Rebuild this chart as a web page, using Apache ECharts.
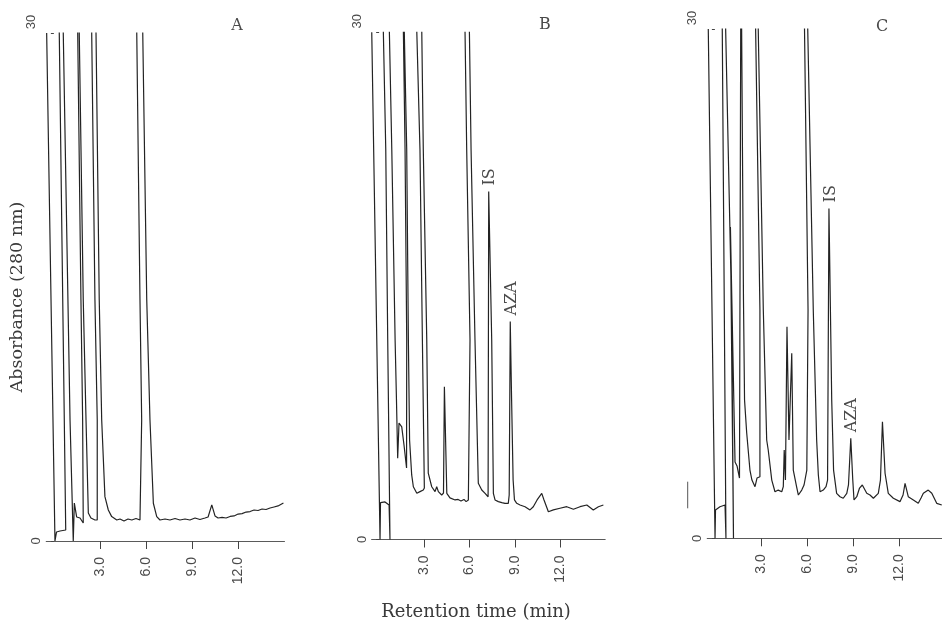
<!DOCTYPE html>
<html>
<head>
<meta charset="utf-8">
<script src="https://cdn.jsdelivr.net/npm/echarts@6/dist/echarts.min.js"></script>
<style>
html,body{margin:0;padding:0;background:#ffffff;}
#chart{width:942px;height:622px;}
</style>
</head>
<body>
<div id="chart"></div>
<script>
// ---------------- data (retention time in min, absorbance units; off-scale peaks run above 30) ----------------
const panelNames = ['A', 'B', 'C'];
const xTickValues = [3, 6, 9, 12];
const yTickValues = [0, 30];
const xAxisTitle = 'Retention time (min)';
const yAxisTitle = 'Absorbance (280 nm)';

const traceA = [[-0.47,30],[0.07,0],[0.17,0.53],[0.40,0.59],[0.77,0.65],[0.35,30],[0.48,40],[0.61,30],[1.05,7.15],[1.26,0],[1.33,2.24],[1.48,1.42],[1.70,1.36],[1.91,1.06],[1.87,7.15],[1.76,14.24],[1.55,30],[1.60,40],[1.65,30],[1.91,14.24],[2.09,7.15],[2.24,1.65],[2.41,1.36],[2.67,1.24],[2.82,1.24],[2.82,7.15],[2.67,14.24],[2.46,30],[2.60,40],[2.74,30],[2.95,14.24],[3.11,7.15],[3.32,2.62],[3.54,1.83],[3.76,1.44],[4.09,1.24],[4.30,1.30],[4.56,1.18],[4.82,1.30],[5.07,1.24],[5.34,1.33],[5.60,1.24],[5.71,1.24],[5.71,7.15],[5.60,14.24],[5.39,30],[5.58,40],[5.78,30],[6.04,14.24],[6.25,7.15],[6.47,2.23],[6.69,1.44],[6.90,1.24],[7.23,1.30],[7.55,1.24],[7.88,1.33],[8.20,1.24],[8.53,1.30],[8.85,1.24],[9.18,1.36],[9.50,1.27],[9.83,1.36],[10.03,1.42],[10.27,2.13],[10.48,1.48],[10.68,1.36],[10.94,1.39],[11.20,1.36],[11.46,1.45],[11.72,1.48],[11.98,1.59],[12.24,1.62],[12.50,1.71],[12.76,1.74],[13.02,1.83],[13.28,1.80],[13.54,1.89],[13.80,1.86],[14.06,1.95],[14.32,2.01],[14.58,2.07],[14.93,2.24]];

const traceB = [[-0.49,30],[0.06,0],[0.09,2.18],[0.39,2.22],[0.66,2.04],[0.72,0],[0.57,11.80],[0.44,23.05],[0.28,30],[0.48,40],[0.68,30],[0.84,23.05],[1.06,11.80],[1.15,8.25],[1.23,4.80],[1.32,6.89],[1.50,6.66],[1.65,5.59],[1.82,4.23],[1.83,11.80],[1.72,23.05],[1.61,30],[1.64,40],[1.67,30],[1.83,23.05],[1.94,11.80],[2.02,5.89],[2.16,3.82],[2.27,3.12],[2.50,2.73],[2.71,2.83],[2.93,2.93],[3.00,3.05],[2.87,11.80],[2.71,23.05],[2.50,30],[2.65,40],[2.83,30],[2.93,23.05],[3.16,11.80],[3.26,3.93],[3.49,3.12],[3.71,2.83],[3.82,3.12],[3.93,2.83],[4.15,2.63],[4.27,2.75],[4.33,9.04],[4.49,2.73],[4.70,2.46],[4.82,2.40],[5.04,2.34],[5.24,2.37],[5.43,2.28],[5.63,2.37],[5.77,2.24],[5.92,2.34],[6.03,2.24],[6.03,11.80],[5.81,23.05],[5.70,30],[5.83,40],[5.99,30],[6.10,23.05],[6.36,11.80],[6.58,3.33],[6.81,2.93],[7.03,2.73],[7.23,2.53],[7.31,2.53],[7.27,20.58],[7.47,11.80],[7.58,2.73],[7.69,2.34],[7.91,2.24],[8.14,2.18],[8.35,2.14],[8.57,2.14],[8.63,2.63],[8.70,12.89],[8.79,8.25],[8.89,3.52],[8.98,2.34],[9.13,2.14],[9.35,2.04],[9.68,1.94],[10.01,1.75],[10.23,1.94],[10.48,2.34],[10.79,2.73],[10.94,2.34],[11.23,1.64],[11.56,1.75],[12.00,1.85],[12.45,1.94],[12.89,1.79],[13.33,1.94],[13.78,2.04],[14.21,1.75],[14.55,1.94],[14.88,2.04]];

const traceC = [[-0.43,30],[0.01,0],[0.04,1.67],[0.33,1.86],[0.66,1.96],[0.72,0],[0.48,30],[0.59,40],[0.70,30],[1.09,13.45],[1.21,0],[1.01,18.33],[1.31,4.49],[1.44,4.26],[1.60,3.55],[1.68,30],[1.71,40],[1.74,30],[1.86,14.03],[1.93,8.14],[2.07,6.20],[2.28,4.02],[2.41,3.43],[2.61,3.04],[2.74,3.55],[2.93,3.63],[2.93,13.45],[2.65,30],[2.74,40],[2.82,30],[3.15,13.45],[3.37,5.79],[3.47,5.20],[3.70,3.43],[3.91,2.74],[4.12,2.84],[4.35,2.74],[4.45,3.04],[4.51,5.20],[4.59,3.43],[4.69,12.46],[4.82,5.79],[5.00,10.90],[5.10,4.02],[5.32,3.02],[5.43,2.55],[5.65,2.84],[5.80,3.14],[5.98,4.02],[6.06,13.45],[5.83,30],[5.93,40],[6.04,30],[6.40,13.45],[6.62,5.79],[6.73,3.73],[6.84,2.74],[7.05,2.84],[7.23,3.04],[7.33,3.43],[7.42,19.43],[7.60,8.14],[7.72,4.02],[7.92,2.65],[8.14,2.45],[8.35,2.36],[8.58,2.65],[8.69,3.14],[8.84,5.89],[8.97,3.43],[9.05,2.26],[9.23,2.45],[9.41,2.96],[9.59,3.14],[9.88,2.65],[10.09,2.55],[10.31,2.36],[10.63,2.65],[10.77,3.43],[10.90,6.87],[11.07,3.83],[11.28,2.65],[11.61,2.36],[12.04,2.16],[12.24,2.55],[12.37,3.24],[12.58,2.45],[12.91,2.26],[13.23,2.06],[13.41,2.37],[13.56,2.65],[13.88,2.84],[14.11,2.65],[14.43,2.06],[14.76,1.96]];

const traces = [traceA, traceB, traceC];

// peak annotations: panel index, text, retention time of the labelled peak
const peakLabels = [
  {panel: 1, text: 'IS',  time: 7.27},
  {panel: 1, text: 'AZA', time: 8.70},
  {panel: 2, text: 'IS',  time: 7.42},
  {panel: 2, text: 'AZA', time: 8.84}
];

// ---------------- layout & style ----------------
const gridBoxes = [
  {left: 46.2,  top: 33,   width: 238.3, height: 508},
  {left: 371.6, top: 32.3, width: 233.6, height: 507.2},
  {left: 707.2, top: 29,   width: 235.2, height: 509.3}
];
const xMin = -0.5;
const xMaxes = [15, 15, 14.8];
const ink = '#232323';
const textInk = '#4a4a4a';
const tickFont = 'Liberation Sans';
const serifFont = 'DejaVu Serif';

const chart = echarts.init(document.getElementById('chart'), null, {renderer: 'canvas'});

const option = {
  animation: false,
  backgroundColor: '#ffffff',
  grid: gridBoxes.map(b => Object.assign({containLabel: false, outerBoundsMode: 'none'}, b)),
  xAxis: gridBoxes.map((b, i) => ({
    type: 'value', gridIndex: i, min: xMin, max: xMaxes[i],
    axisLine: {show: true, onZero: false, lineStyle: {color: '#5a5a5a', width: 1}},
    axisTick: {show: true, customValues: xTickValues, length: 8, lineStyle: {color: '#444', width: 1}},
    axisLabel: {show: true, customValues: xTickValues, rotate: 90, margin: 16,
      formatter: v => v.toFixed(1), fontFamily: tickFont, fontSize: 14, color: textInk},
    splitLine: {show: false}
  })),
  yAxis: gridBoxes.map((b, i) => ({
    type: 'value', gridIndex: i, min: 0, max: 30, interval: 30,
    axisLine: {show: false},
    axisTick: {show: true, length: 3, lineStyle: {color: '#444', width: 1}},
    axisLabel: {show: true, rotate: 90, margin: 3,
      formatter: v => v === 30 ? '{hi|30}' : '{lo|0}',
      rich: {
        hi: {fontFamily: tickFont, fontSize: 13, color: textInk, padding: [0, 0, 5, 22]},
        lo: {fontFamily: tickFont, fontSize: 13, color: textInk}
      }},
    splitLine: {show: false}
  })),
  series: traces.map((tr, i) => ({
    type: 'line', xAxisIndex: i, yAxisIndex: i, data: tr,
    showSymbol: false, symbol: 'none', smooth: false, clip: true, silent: true,
    lineStyle: {color: ink, width: 1.2}
  }))
};
chart.setOption(option);

// ---------------- text annotations ----------------
const graphics = [];
const titlePos = [[237, 26], [545, 25], [882, 27]];
panelNames.forEach((n, i) => {
  graphics.push({type: 'text', x: titlePos[i][0], y: titlePos[i][1], silent: true,
    style: {text: n, font: '16px "' + serifFont + '"', fill: textInk, align: 'center', verticalAlign: 'middle'}});
});
graphics.push({type: 'text', x: 476, y: 612, silent: true,
  style: {text: xAxisTitle, font: '18px "' + serifFont + '"', fill: '#3a3a3a', align: 'center', verticalAlign: 'middle'}});
graphics.push({type: 'text', x: 17, y: 297, rotation: Math.PI / 2, silent: true,
  style: {text: yAxisTitle, font: '17.5px "' + serifFont + '"', fill: '#3a3a3a', align: 'center', verticalAlign: 'middle'}});

peakLabels.forEach(p => {
  const tr = traces[p.panel];
  let best = null;
  tr.forEach(d => { if (Math.abs(d[0] - p.time) < 0.2 && (!best || d[1] > best[1])) best = d; });
  const px = chart.convertToPixel({gridIndex: p.panel}, best);
  graphics.push({type: 'text', x: px[0] + 1.5, y: px[1] - 6, rotation: Math.PI / 2, silent: true,
    style: {text: p.text, font: '16px "' + serifFont + '"', fill: textInk, align: 'left', verticalAlign: 'middle'}});
});

// stray recorder mark left of panel C
graphics.push({type: 'line', silent: true, shape: {x1: 687.7, y1: 481.7, x2: 687.7, y2: 508.3},
  style: {stroke: '#555', lineWidth: 1}});

chart.setOption({graphic: graphics});
</script>
</body>
</html>
